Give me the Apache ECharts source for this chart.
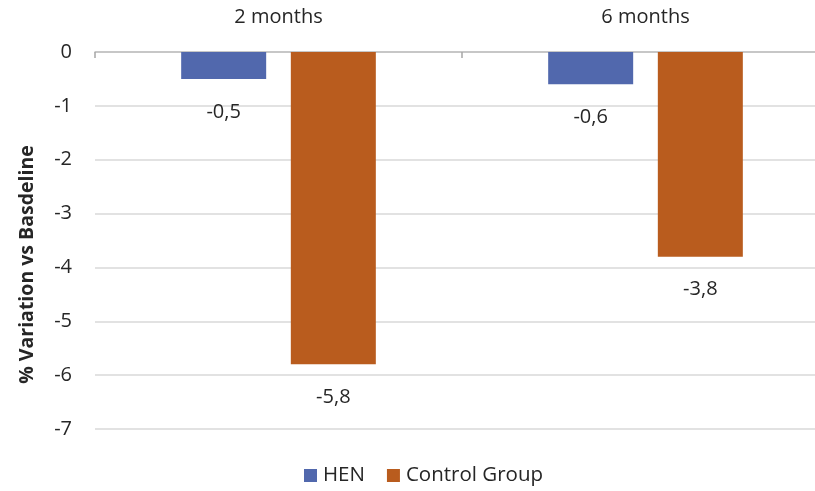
<!DOCTYPE html>
<html>
<head>
<meta charset="utf-8">
<script src="https://cdn.jsdelivr.net/npm/echarts@6/dist/echarts.min.js"></script>
<style>
  html, body { margin: 0; padding: 0; background: #fff; }
  #chart { width: 815px; height: 491px; }
</style>
</head>
<body>
<div id="chart"></div>
<script>
// Change from baseline at each follow-up visit
const periods = ['2 months', '6 months'];
const henValues = [-0.5, -0.6];
const controlValues = [-5.8, -3.8];
const yTicks = { min: -7, max: 0, step: 1 };

const FONT = '"Open Sans", sans-serif';
const commaDecimal = v => String(v).replace('.', ',');

const chart = echarts.init(document.getElementById('chart'));

const barLabel = {
  show: true,
  position: 'bottom',
  distance: 23,
  color: '#262626',
  fontFamily: FONT,
  fontSize: 20,
  formatter: p => commaDecimal(p.value)
};

chart.setOption({
  animation: false,
  textStyle: { fontFamily: FONT },
  grid: {
    left: 95, top: 52, width: 734, height: 377,
    containLabel: false,
    outerBoundsMode: 'none'
  },
  legend: {
    bottom: 0,
    left: 299,
    itemWidth: 13,
    itemHeight: 13,
    itemGap: 22,
    icon: 'rect',
    textStyle: { fontFamily: FONT, fontSize: 20.5, color: '#262626', padding: [0, 0, 0, 1] },
    data: ['HEN', 'Control Group']
  },
  xAxis: {
    type: 'category',
    position: 'top',
    data: periods,
    axisLine: { show: true, lineStyle: { color: '#bfbfbf', width: 1.5 } },
    axisTick: { show: true, inside: true, length: 6, lineStyle: { color: '#a6a6a6', width: 1.5 } },
    axisLabel: { margin: 25, color: '#262626', fontSize: 20, fontFamily: FONT },
    splitLine: { show: false }
  },
  yAxis: {
    type: 'value',
    min: yTicks.min,
    max: yTicks.max,
    interval: yTicks.step,
    name: '% Variation vs Basdeline',
    nameLocation: 'middle',
    nameGap: 58,
    nameRotate: 90,
    nameTextStyle: {
      fontFamily: FONT, fontSize: 19.5, fontWeight: 'bold', color: '#262626',
      padding: [0, 48, 0, 0]
    },
    axisLine: { show: false },
    axisTick: { show: false },
    axisLabel: { margin: 23, color: '#262626', fontSize: 20, fontFamily: FONT },
    splitLine: { lineStyle: { color: '#d9d9d9', width: 1.5 } }
  },
  series: [
    {
      name: 'HEN',
      type: 'bar',
      data: henValues,
      barWidth: 85,
      barGap: '29%',
      itemStyle: { color: '#5168ad' },
      label: barLabel
    },
    {
      name: 'Control Group',
      type: 'bar',
      data: controlValues,
      barWidth: 85,
      barGap: '29%',
      itemStyle: { color: '#b95c1e' },
      label: barLabel
    }
  ]
});
</script>
</body>
</html>
